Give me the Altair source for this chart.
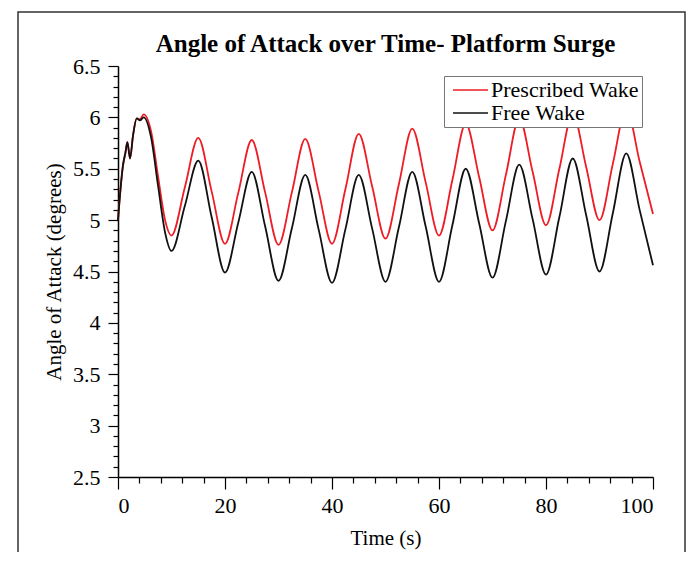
import altair as alt
import pandas as pd

# ---- data ----
time_s = [0, 0.5, 0.9, 1.4, 1.75, 2.25, 2.8, 3.5, 4.1, 4.8, 6.2, 7.5, 8.8,
          10, 12.5, 15, 17.5, 20, 22.5, 25, 27.5, 30, 32.5, 35, 37.5, 40, 42.5,
          45, 47.5, 50, 52.5, 55, 57.5, 60, 62.5, 65, 67.5, 70, 72.5, 75, 77.5,
          80, 82.5, 85, 87.5, 90, 92.5, 95, 97.5, 100]

prescribed_wake = [5.0, 5.32, 5.52, 5.66, 5.76, 5.60, 5.82, 5.99, 5.98, 6.03, 5.86, 5.42, 5.0,
                   4.85, 5.32, 5.80, 5.28, 4.77, 5.27, 5.78, 5.27, 4.76, 5.27, 5.79, 5.28, 4.77, 5.30,
                   5.84, 5.33, 4.82, 5.35, 5.89, 5.37, 4.85, 5.39, 5.94, 5.42, 4.90, 5.44, 5.99, 5.47,
                   4.95, 5.50, 6.04, 5.52, 5.00, 5.55, 6.09, 5.57, 5.06]

free_wake = [5.0, 5.32, 5.52, 5.66, 5.76, 5.60, 5.82, 5.99, 5.97, 6.00, 5.80, 5.33, 4.88,
             4.70, 5.14, 5.58, 5.03, 4.49, 4.98, 5.47, 4.94, 4.41, 4.92, 5.44, 4.91, 4.39, 4.91,
             5.44, 4.92, 4.40, 4.93, 5.47, 4.94, 4.40, 4.95, 5.50, 4.97, 4.44, 4.99, 5.54, 5.01,
             4.47, 5.03, 5.60, 5.05, 4.50, 5.07, 5.65, 5.10, 4.56]

series_names = ["Prescribed Wake", "Free Wake"]
series_colors = ["#ee1c25", "#111111"]

x_tick_values = list(range(0, 101, 4))
y_tick_values = [round(2.5 + 0.1 * i, 1) for i in range(41)]

df = pd.DataFrame({
    "Time": time_s + time_s,
    "AoA": prescribed_wake + free_wake,
    "Series": [series_names[0]] * len(time_s) + [series_names[1]] * len(time_s),
})

FONT = "Liberation Serif"

x_enc = alt.X(
    "Time:Q",
    scale=alt.Scale(domain=[0, 100], nice=False),
    title="Time (s)",
    axis=alt.Axis(
        values=x_tick_values,
        labelExpr="datum.value % 20 === 0 ? datum.label : ''",
        tickSize={"condition": {"test": "datum.value % 20 === 0", "value": 12}, "value": 6},
        labelPadding=6,
        titlePadding=11,
    ),
)

y_enc = alt.Y(
    "AoA:Q",
    scale=alt.Scale(domain=[2.5, 6.5], nice=False),
    title="Angle of Attack (degrees)",
    axis=alt.Axis(
        values=y_tick_values,
        format="~g",
        labelExpr="abs(datum.value * 2 - round(datum.value * 2)) < 0.001 ? datum.label : ''",
        tickSize={"condition": {"test": "abs(datum.value * 2 - round(datum.value * 2)) < 0.001",
                                "value": 10}, "value": 5},
        labelPadding=8,
        titlePadding=8,
    ),
)

color_enc = alt.Color(
    "Series:N",
    scale=alt.Scale(domain=series_names, range=series_colors),
    legend=alt.Legend(
        title=None,
        orient="none",
        legendX=326,
        legendY=10,
        direction="vertical",
        symbolType="M-1,0H2.5",
        symbolSize=400,
        symbolStrokeWidth=1.5,
        labelFont=FONT,
        labelFontSize=22,
        labelColor="black",
        labelLimit=400,
        labelOffset=17,
        fillColor="white",
        strokeColor="#777777",
        padding=3,
        rowPadding=1,
        symbolOffset=5,
    ),
)

base = alt.Chart(df)

red = base.transform_filter(alt.datum.Series == series_names[0]).mark_line(
    interpolate="monotone", strokeWidth=1.8
).encode(x=x_enc, y=y_enc, color=color_enc)

black = base.transform_filter(alt.datum.Series == series_names[1]).mark_line(
    interpolate="monotone", strokeWidth=1.8
).encode(x=x_enc, y=y_enc, color=color_enc)

border = alt.Chart(pd.DataFrame({"k": [0]})).mark_rect(
    fillOpacity=0, stroke="#333333", strokeWidth=1.5, clip=False
).encode(
    x=alt.value(-100), x2=alt.value(567), y=alt.value(-54), y2=alt.value(600)
)

chart = alt.layer(border, red, black).properties(
    width=535,
    height=411,
    autosize=alt.AutoSizeParams(type="none"),
    padding={"left": 110, "top": 58, "right": 33, "bottom": 75},
    title=alt.TitleParams(
        "Angle of Attack over Time- Platform Surge",
        font=FONT, fontSize=25, fontWeight="bold", color="black",
        anchor="middle", frame="group", offset=-46,
    ),
).configure_view(stroke=None).configure_axis(
    labelFont=FONT, titleFont=FONT, labelFontSize=22, titleFontSize=21,
    titleFontWeight="normal", labelColor="black", titleColor="black",
    domainColor="black", domainWidth=1.5, tickColor="black", tickWidth=1.2,
    grid=False,
)

chart.save("out.html", embed_options={"renderer": "svg", "actions": False})
